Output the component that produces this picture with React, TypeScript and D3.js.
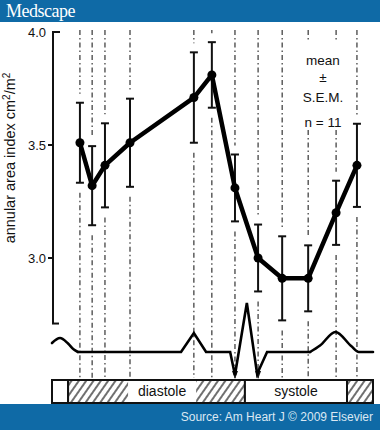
import React from "react";
import * as d3 from "d3";

// ---- data ----
const timePoints = [8.7, 12.5, 16.5, 24.3, 44.2, 49.8, 57.0, 64.2, 71.7, 79.8, 88.5, 95.0];
const meanValues = [3.51, 3.32, 3.41, 3.51, 3.71, 3.81, 3.31, 3.0, 2.91, 2.91, 3.2, 3.41];
const semValues = [0.177, 0.175, 0.186, 0.195, 0.2, 0.145, 0.148, 0.148, 0.186, 0.146, 0.142, 0.184];
const yTicks = [4.0, 3.5, 3.0];
// pulse trace: smooth start bump, sharp middle, smooth T wave
const ecgStartTimes = [0, 2.5, 5.0, 6.8, 8.1];
const ecgStartAmps = [0.18, 0.28, 0.17, 0.05, 0];
const ecgMidTimes = [8.1, 40.2, 44.2, 48.0, 55.5, 57.0, 60.7, 63.9, 67.0, 80.4];
const ecgMidAmps = [0, 0, 0.38, 0, 0, -0.46, 0.98, -0.44, 0, 0];
const ecgEndTimes = [80.4, 83.5, 88.3, 93.2, 95.6, 100];
const ecgEndAmps = [0, 0.13, 0.4, 0.12, 0, 0];
const phaseStarts = [0, 5.0, 60.1, 91.9];
const phaseEnds = [5.0, 60.1, 91.9, 100];
const phaseHatched = [false, true, false, true];
const phaseLabels = ["", "diastole", "systole", ""];
const arrowIndices = [6, 7];
const legendLines = ["mean", "±", "S.E.M.", "n = 11"];

const W = 380;
const H = 430;
const BLUE = "#0f6aa6";

export default function App() {
  const x = d3.scaleLinear().domain([0, 100]).range([52, 373]);
  const y = d3.scaleLinear().domain([3, 4]).range([258, 32]);
  const ecgY = d3.scaleLinear().domain([0, 1]).range([352, 302]);

  const pts = timePoints.map((t, i) => ({ t, v: meanValues[i], s: semValues[i] }));
  const lineGen = d3.line<any>().x((d) => x(d.t)).y((d) => y(d.v));
  const smooth = (ts: number[], as: number[]) =>
    d3
      .line<number>()
      .curve(d3.curveMonotoneX)
      .x((_, i) => x(ts[i]))
      .y((d) => ecgY(d))(as) || "";
  const sharp = (ts: number[], as: number[]) =>
    d3
      .line<number>()
      .x((_, i) => x(ts[i]))
      .y((d) => ecgY(d))(as) || "";

  const dash = "5,3,1.5,3";
  const topY = 30;
  const botY = 378;
  const barTop = 380;
  const barBot = 403;
  const font = "Arial, 'Liberation Sans', Helvetica, sans-serif";
  const legendY = [65, 82, 102, 127];

  return (
    <svg
      width={W}
      height={H}
      style={{ position: "absolute", left: 0, top: 0, background: "#fff" }}
      fontFamily={font}
    >
      <defs>
        <pattern id="hatch" width="6" height="10" patternUnits="userSpaceOnUse" patternTransform="rotate(35)">
          <line x1="1" y1="0" x2="1" y2="10" stroke="#222" strokeWidth="1.3" />
        </pattern>
      </defs>
      <rect x={0} y={0} width={W} height={H} fill="#fff" />
      {/* header */}
      <rect x={0} y={0} width={W} height={22} fill={BLUE} />
      <text x={6} y={17} fill="#fff" fontFamily="'Liberation Serif', 'DejaVu Serif', serif" fontSize={18} letterSpacing={-0.5}>
        Medscape
      </text>

      {/* dashed vertical lines */}
      {pts.map((p, i) => {
        const xx = x(p.t);
        const eTop = y(p.v + p.s) - 9;
        const eBot = y(p.v - p.s) + 10;
        const segs: [number, number][] =
          i === 9 || i === 10
            ? [
                [topY, 42],
                [130, eTop],
                [eBot, botY],
              ]
            : [
                [topY, eTop],
                [eBot, botY],
              ];
        return segs.map((s, j) => (
          <line key={`d${i}-${j}`} x1={xx} x2={xx} y1={s[0]} y2={s[1]} stroke="#222" strokeWidth={1.1} strokeDasharray={dash} />
        ));
      })}

      {/* arrows */}
      {arrowIndices.map((i) => {
        const xx = x(timePoints[i]);
        return <path key={`a${i}`} d={`M${xx - 3},371 L${xx + 3},371 L${xx},379 Z`} fill="#111" />;
      })}

      {/* y axis */}
      <line x1={53} x2={53} y1={y(4)} y2={y(2.71)} stroke="#111" strokeWidth={2} />
      <line x1={52} x2={60} y1={y(4)} y2={y(4)} stroke="#111" strokeWidth={2} />
      <line x1={52} x2={59} y1={y(2.71)} y2={y(2.71)} stroke="#111" strokeWidth={2} />
      {yTicks.slice(1).map((t) => (
        <line key={`t${t}`} x1={48} x2={54} y1={y(t)} y2={y(t)} stroke="#111" strokeWidth={2} />
      ))}
      {yTicks.map((t) => (
        <text key={`l${t}`} x={46} y={y(t)} dy="0.35em" textAnchor="end" fontSize={13} fill="#111">
          {t.toFixed(1)}
        </text>
      ))}
      <text transform="translate(15,158) rotate(-90)" textAnchor="middle" fontSize={14.5} fill="#111">
        annular area index cm
        <tspan dy={-5} fontSize={10}>2</tspan>
        <tspan dy={5}>/m</tspan>
        <tspan dy={-5} fontSize={10}>2</tspan>
      </text>

      {/* error bars */}
      {pts.map((p, i) => {
        const xx = x(p.t);
        const a = y(p.v + p.s);
        const b = y(p.v - p.s);
        return (
          <g key={`e${i}`} stroke="#111" strokeWidth={2}>
            <line x1={xx} x2={xx} y1={a} y2={b} />
            <line x1={xx - 4} x2={xx + 4} y1={a} y2={a} />
            <line x1={xx - 4} x2={xx + 4} y1={b} y2={b} />
          </g>
        );
      })}

      {/* mean line */}
      <path d={lineGen(pts) || ""} fill="none" stroke="#000" strokeWidth={4.5} strokeLinejoin="round" />
      {pts.map((p, i) => (
        <circle key={`c${i}`} cx={x(p.t)} cy={y(p.v)} r={4.5} fill="#000" />
      ))}

      {/* legend */}
      {legendLines.map((s, i) => (
        <text key={`lg${i}`} x={323} y={legendY[i]} textAnchor="middle" fontSize={13.5} fill="#111">
          {s}
        </text>
      ))}

      {/* pulse trace */}
      <g fill="none" stroke="#000" strokeWidth={2.6} strokeLinecap="round">
        <path d={smooth(ecgStartTimes, ecgStartAmps)} />
        <path d={sharp(ecgMidTimes, ecgMidAmps)} strokeLinejoin="miter" />
        <path d={smooth(ecgEndTimes, ecgEndAmps)} />
      </g>

      {/* phase bar */}
      {phaseStarts.map((s, i) => (
        <rect
          key={`p${i}`}
          x={x(s)}
          y={barTop}
          width={x(phaseEnds[i]) - x(s)}
          height={barBot - barTop}
          fill={phaseHatched[i] ? "url(#hatch)" : "#fff"}
          stroke="#111"
          strokeWidth={2}
        />
      ))}
      <rect x={x(23.7)} y={barTop + 1} width={x(44.9) - x(23.7)} height={barBot - barTop - 2} fill="#fff" />
      {phaseLabels.map((l, i) =>
        l ? (
          <text
            key={`pl${i}`}
            x={i === 1 ? x(34.3) : x((phaseStarts[i] + phaseEnds[i]) / 2)}
            y={(barTop + barBot) / 2}
            dy="0.35em"
            textAnchor="middle"
            fontSize={14}
            fill="#111"
          >
            {l}
          </text>
        ) : null
      )}

      {/* footer */}
      <rect x={0} y={404} width={W} height={26} fill={BLUE} />
      <text x={373} y={421} textAnchor="end" fontSize={12} fill="#dbe8f3">
        Source: Am Heart J © 2009 Elsevier
      </text>
    </svg>
  );
}
